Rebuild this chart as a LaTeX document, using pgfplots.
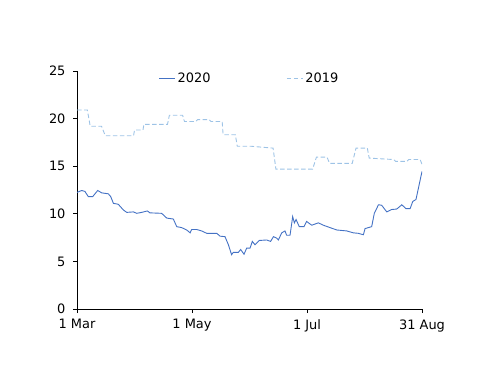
\documentclass[border=0pt]{standalone}
\usepackage{fontspec}
\setmainfont{DejaVu Sans}
\usepackage{pgfplots}
\pgfplotsset{compat=1.18}
\definecolor{c2020}{HTML}{4472C4}
\definecolor{c2019}{HTML}{9DC3E6}
\begin{document}
\begin{tikzpicture}[x=1bp,y=1bp,font=\fontsize{13}{15}\selectfont]
\path[use as bounding box] (0,0) rectangle (500,386);
\begin{axis}[
  at={(77bp,77bp)}, anchor=south west,
  scale only axis, width=345bp, height=238bp,
  xmin=0, xmax=183, ymin=0, ymax=25,
  axis lines=left, axis line style={-, black, line width=0.8bp},
  xtick={0,61,122,183}, xticklabels={1 Mar,1 May,1 Jul,31 Aug},
  ytick={0,5,10,15,20,25},
  tick align=outside, major tick length=4bp,
  tick style={black, line width=0.8bp},
  xticklabel style={yshift=-3bp},
  yticklabel style={xshift=-4bp},
  /pgf/number format/assume math mode=true,
  legend style={at={(0.5,1)}, anchor=north, draw=none, fill=none,
    legend columns=2, inner sep=0pt,
    /tikz/every even column/.append style={column sep=74bp}},
  legend cell align=left,
  legend image code/.code={\draw[#1] (0bp,0bp) -- (16bp,0bp);},
]
\addplot[c2020, line width=0.9bp] coordinates {
(0,12.25) (2.5,12.45) (4.2,12.35) (6,11.8) (8.3,11.8) (11,12.45) (13.1,12.2)
(16.6,12.1) (17.9,11.8) (19.3,11.1) (21.9,11.0) (24.6,10.4) (26.4,10.15)
(29.9,10.2) (31.7,10.05) (34.3,10.15) (37.3,10.3) (38.7,10.1) (44.9,10.05)
(47.6,9.55) (51.1,9.45) (52.9,8.65) (55.5,8.55) (58.2,8.3) (60,8.0) (60.8,8.35)
(63.5,8.35) (66.1,8.2) (68.8,7.95) (74.1,7.95) (75.9,7.65) (78.5,7.6)
(80.3,6.75) (82,5.7) (82.9,5.95) (85.6,5.95) (86.8,6.25) (88.6,5.75) (90,6.4)
(91.8,6.4) (93,7.1) (94.4,6.75) (96.7,7.2) (100.6,7.25) (102.7,7.1) (104.2,7.6)
(105.9,7.45) (106.8,7.25) (108.6,8.0) (110.3,8.2) (111.2,7.75) (113,7.75)
(114.4,9.7) (115.3,9.05) (116.2,9.4) (117.9,8.65) (120.4,8.65) (121.8,9.2)
(124.5,8.8) (128,9.05) (130.7,8.8) (134.2,8.55) (137.8,8.3) (143.1,8.2)
(146.6,8.0) (149.2,7.95) (151.9,7.8) (152.8,8.45) (156.3,8.65) (157.7,10.05)
(159.9,10.95) (161.6,10.9) (164.3,10.2) (166.9,10.45) (169.6,10.5) (172.3,10.95)
(174.4,10.55) (176.7,10.55) (178.1,11.3) (179.8,11.5) (183,14.45)
};
\addlegendentry{2020}
\addplot[c2019, line width=0.9bp, dash pattern=on 4.5bp off 2.5bp] coordinates {
(0,20.9) (5.5,20.9) (7,19.2) (13,19.2) (15,18.2) (30,18.2) (30.5,18.8) (35,18.8)
(35.5,19.4) (48,19.4) (49,20.35) (56,20.35) (57,19.7) (63,19.7) (64,19.9)
(70,19.9) (71,19.7) (77,19.7) (77.5,18.3) (84,18.3) (85,17.1) (92,17.1)
(104,16.9) (105.5,14.7) (125,14.7) (127,15.95) (132.6,15.95) (134,15.3)
(146,15.3) (148,16.9) (154,16.9) (155,15.85) (168,15.7) (169,15.5) (175,15.5)
(176,15.7) (182,15.7) (183,15.2)
};
\addlegendentry{2019}
\end{axis}
\end{tikzpicture}
\end{document}
